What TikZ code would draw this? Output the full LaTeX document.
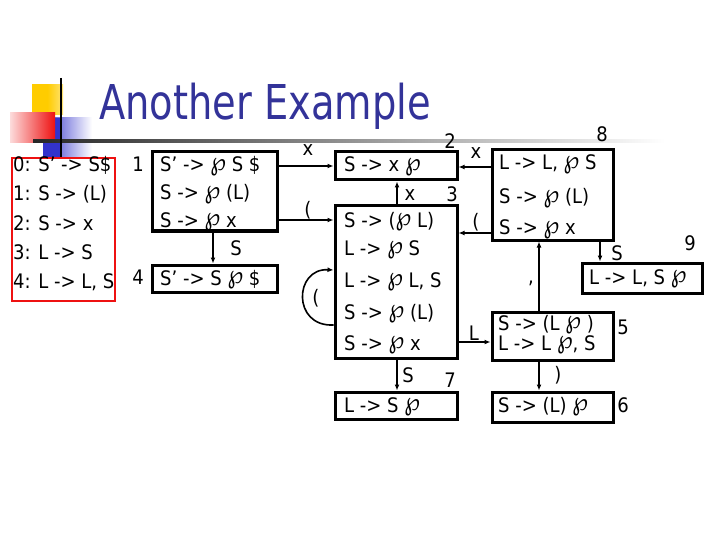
\documentclass[tikz,border=0pt]{standalone}
\usepackage{fontspec}
\setmainfont{DejaVu Sans}[FakeStretch=0.9]
\newfontfamily\titlefont{DejaVu Sans}[FakeStretch=0.8]
\usetikzlibrary{arrows.meta}
\definecolor{titleblue}{HTML}{333399}
\definecolor{decoyellow}{HTML}{FFCC00}
\definecolor{decoblue}{HTML}{3333CC}
\definecolor{decored}{HTML}{EE1111}
\newcommand{\itm}{\raisebox{1.5pt}{\fontsize{25}{25}\selectfont ℘}}
\begin{document}
\begin{tikzpicture}[x=1pt,y=-1pt,
  statebox/.style={draw, line width=3pt, inner sep=0pt},
  gbox/.style={draw=decored, line width=2.2pt, inner sep=0pt},
  txt/.style={anchor=base west, inner sep=0pt, font=\fontsize{20}{24}\selectfont},
  lbl/.style={anchor=base, inner sep=0pt, font=\fontsize{20}{24}\selectfont},
  conn/.style={line width=1.6pt, -{Latex[length=6pt,width=5pt]}}
]
\useasboundingbox (0,0) rectangle (720,540);
\fill[white] (0,0) rectangle (720,540);

% decoration
\shade[left color=decoyellow, right color=decoyellow!55, middle color=decoyellow] (32,85) rectangle (63,115);
\shade[left color=decoblue, right color=white] (43,118) rectangle (92,158);
\fill[decoblue] (43,118) rectangle (62,158);
\shade[left color=decored!15, right color=decored] (10,113) rectangle (55,143);
\shade[left color=black!85, right color=white] (33,139.5) rectangle (665,142.5);
\draw[line width=2pt, black] (61,78) -- (61,158);

% title
\node[anchor=base west, inner sep=0pt, text=titleblue, font=\titlefont\fontsize{48}{56}\selectfont] (title) at (99,120) {Another Example};

% grammar
\node[gbox, minimum width=103pt, minimum height=143pt] (gram) at (63.5,229.5) {};
\node[txt] (g0) at (13,172) {0: S’ -> S\$};
\node[txt] (g1) at (13,201) {1: S -> (L)};
\node[txt] (g2) at (13,230) {2: S -> x};
\node[txt] (g3) at (13,259) {3: L -> S};
\node[txt] (g4) at (13,288) {4: L -> L, S};

% state boxes
\node[statebox, minimum width=125pt, minimum height=79pt] (s1) at (214.5,191.5) {};
\node[statebox, minimum width=125pt, minimum height=27pt] (s4) at (214.5,278.5) {};
\node[statebox, minimum width=122pt, minimum height=28pt] (s2) at (396,166) {};
\node[statebox, minimum width=122pt, minimum height=152pt] (s3) at (396,282) {};
\node[statebox, minimum width=122pt, minimum height=27pt] (s7) at (396,405.5) {};
\node[statebox, minimum width=121pt, minimum height=90pt] (s8) at (552.5,195) {};
\node[statebox, minimum width=120pt, minimum height=30pt] (s9) at (642,278) {};
\node[statebox, minimum width=121pt, minimum height=48pt] (s5) at (552.5,336) {};
\node[statebox, minimum width=121pt, minimum height=30pt] (s6) at (552.5,407) {};

% state texts
\node[txt] (t1a) at (160,172) {S’ -> \itm{} S \$};
\node[txt] (t1b) at (160,200) {S -> \itm{} (L)};
\node[txt] (t1c) at (160,227) {S -> \itm{} x};
\node[txt] (t4a) at (160,285) {S’ -> S \itm{} \$};
\node[txt] (t2a) at (344,172) {S -> x \itm};
\node[txt] (t3a) at (344,227) {S -> (\itm{} L)};
\node[txt] (t3b) at (344,255) {L -> \itm{} S};
\node[txt] (t3c) at (344,287) {L -> \itm{} L, S};
\node[txt] (t3d) at (344,319) {S -> \itm{} (L)};
\node[txt] (t3e) at (344,350) {S -> \itm{} x};
\node[txt] (t7a) at (344,412) {L -> S \itm};
\node[txt] (t8a) at (499,170) {L -> L, \itm{} S};
\node[txt] (t8b) at (499,204) {S -> \itm{} (L)};
\node[txt] (t8c) at (499,235) {S -> \itm{} x};
\node[txt] (t9a) at (589,284) {L -> L, S \itm};
\node[txt] (t5a) at (498,330) {S -> (L \itm{} )};
\node[txt] (t5b) at (498,350) {L -> L \itm, S};
\node[txt] (t6a) at (498,412) {S -> (L) \itm};

% state numbers
\node[lbl] (n1) at (138,172) {1};
\node[lbl] (n4) at (138,284) {4};
\node[lbl] (n2) at (450,149) {2};
\node[lbl] (n3) at (452,202) {3};
\node[lbl] (n7) at (450,387) {7};
\node[lbl] (n8) at (602,142) {8};
\node[lbl] (n9) at (690,250) {9};
\node[lbl] (n5) at (623,334) {5};
\node[lbl] (n6) at (623,412) {6};

% helper coordinates
\coordinate (ya) at (0,220);
\coordinate (xb) at (213,0);
\coordinate (xc) at (397,0);
\coordinate (yl1) at (0,325);
\coordinate (yl2) at (0,270);
\coordinate (yd) at (0,342);
\coordinate (ye) at (0,167);
\coordinate (yf) at (0,233);
\coordinate (xg) at (539,0);
\coordinate (xh) at (600,0);

% connectors
\draw[conn] (s1.east |- s2.west) -- (s2.west);
\draw[conn] (s1.east |- ya) -- (s3.west |- ya);
\draw[conn] (s1.south -| xb) -- (s4.north -| xb);
\draw[conn] (s3.north -| xc) -- (s2.south -| xc);
\draw[conn] (s3.south -| xc) -- (s7.north -| xc);
\draw[conn] (s3.west |- yl1) .. controls (292,327) and (294,268) .. (s3.west |- yl2);
\draw[conn] (s3.east |- yd) -- (s5.west |- yd);
\draw[conn] (s8.west |- ye) -- (s2.east |- ye);
\draw[conn] (s8.west |- yf) -- (s3.east |- yf);
\draw[conn] (s5.north -| xg) -- (s8.south -| xg);
\draw[conn] (s8.south -| xh) -- (s9.north -| xh);
\draw[conn] (s5.south -| xg) -- (s6.north -| xg);

% connector labels
\node[lbl] (la1) at (308,156) {x};
\node[lbl] (la2) at (308,216) {(};
\node[lbl] (la3) at (236,255) {S};
\node[lbl] (la4) at (410,201) {x};
\node[lbl] (la5) at (316,304) {(};
\node[lbl] (la6) at (408,382) {S};
\node[lbl] (la7) at (474,340) {L};
\node[lbl] (la8) at (476,159) {x};
\node[lbl] (la9) at (476,229) {(};
\node[lbl] (la10) at (531,283) {,};
\node[lbl] (la11) at (617,260) {S};
\node[lbl] (la12) at (558,381) {)};
\end{tikzpicture}
\end{document}
